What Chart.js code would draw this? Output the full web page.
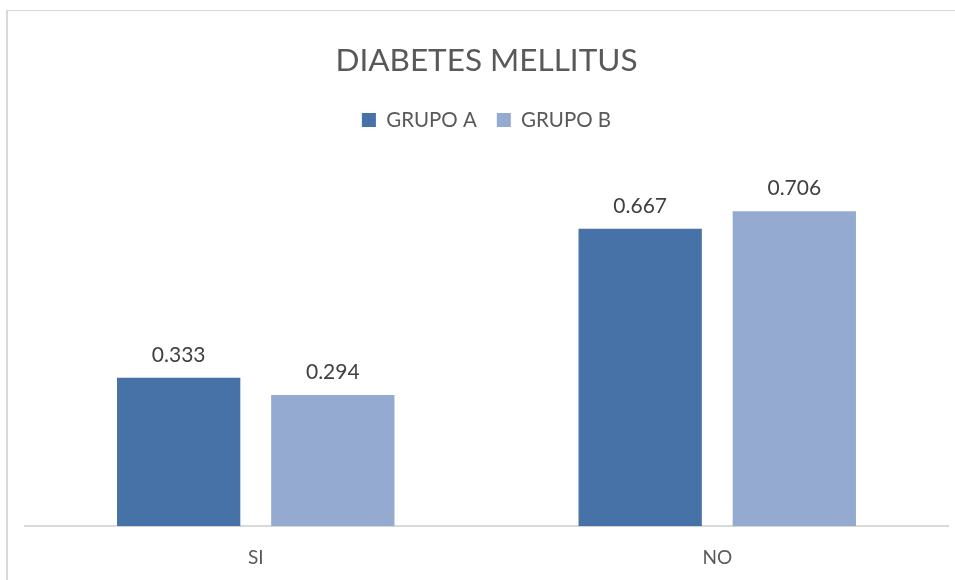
<!DOCTYPE html>
<html>
<head>
<meta charset="utf-8">
<script src="https://cdn.jsdelivr.net/npm/chart.js@4/dist/chart.umd.min.js"></script>
<style>
  html, body { margin: 0; padding: 0; background: #ffffff; }
  #wrap { position: relative; width: 955px; height: 580px; overflow: hidden; }
  #frame {
    position: absolute; left: 6px; top: 10px; width: 2000px; height: 2000px;
    border-left: 2px solid #d9d9d9; border-top: 1px solid #d9d9d9; box-sizing: border-box;
  }
  #c { position: absolute; left: 0; top: 0; }
</style>
</head>
<body>
<div id="wrap">
  <div id="frame"></div>
  <canvas id="c" width="955" height="597"></canvas>
</div>
<script>
// Diabetes mellitus proportions per group
const categories = ["SI", "NO"];
const grupoA = [0.333, 0.667];
const grupoB = [0.294, 0.706];
const seriesNames = ["GRUPO A", "GRUPO B"];

const FONT = "Lato, 'Open Sans', sans-serif";
const TEXT = "#595959";

// Writes each bar's value above it
const valueLabels = {
  id: "valueLabels",
  afterDatasetsDraw(chart) {
    const ctx = chart.ctx;
    ctx.save();
    ctx.font = "21px " + FONT;
    ctx.fillStyle = "#404040";
    ctx.textAlign = "center";
    ctx.textBaseline = "alphabetic";
    chart.data.datasets.forEach((ds, i) => {
      chart.getDatasetMeta(i).data.forEach((el, j) => {
        ctx.fillText(ds.data[j].toFixed(3), el.x, el.y - 16);
      });
    });
    ctx.restore();
  }
};

new Chart(document.getElementById("c"), {
  type: "bar",
  data: {
    labels: categories,
    datasets: [
      { label: seriesNames[0], data: grupoA, backgroundColor: "#4672A7" },
      { label: seriesNames[1], data: grupoB, backgroundColor: "#95AAD0" }
    ]
  },
  options: {
    responsive: false,
    animation: false,
    layout: { padding: { left: 25, right: 7, top: 42, bottom: 8 } },
    datasets: { bar: { categoryPercentage: 0.668, barPercentage: 0.8 } },
    scales: {
      x: {
        grid: { display: false, drawTicks: false },
        border: { display: true, color: "#d9d9d9", width: 2 },
        ticks: { color: TEXT, font: { family: FONT, size: 19 }, padding: 20 }
      },
      y: { display: false, min: 0, max: 0.865 }
    },
    plugins: {
      title: {
        display: true,
        text: "DIABETES MELLITUS",
        color: TEXT,
        font: { family: FONT, size: 31.5, weight: "normal" },
        padding: { top: 0, bottom: 10 }
      },
      legend: {
        display: true,
        labels: {
          color: TEXT,
          font: { family: FONT, size: 20.5 },
          boxWidth: 14, boxHeight: 14, padding: 20
        }
      },
      tooltip: { enabled: false }
    }
  },
  plugins: [valueLabels]
});
</script>
</body>
</html>
